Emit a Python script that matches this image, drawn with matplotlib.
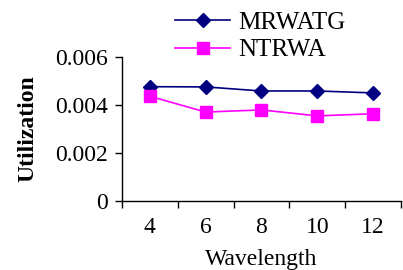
import matplotlib
matplotlib.use("Agg")
import matplotlib.pyplot as plt

categories = ["4", "6", "8", "10", "12"]
mrwatg = [0.00476, 0.00475, 0.00458, 0.00458, 0.00450]
ntrwa = [0.00436, 0.00370, 0.00379, 0.00354, 0.00363]
yticks = [0, 0.002, 0.004, 0.006]
ytick_labels = ["0", "0.002", "0.004", "0.006"]

plt.rcParams['font.family'] = ['Liberation Serif', 'DejaVu Serif']

fig = plt.figure(figsize=(4.03, 2.70), dpi=100)
ax = fig.add_axes([0.3027, 0.2567, 0.6923, 0.5323])

x = list(range(len(categories)))
l1, = ax.plot(x, mrwatg, color='#000080', marker='D', markersize=7, linewidth=1.2, label='MRWATG')
l2, = ax.plot(x, ntrwa, color='#FF00FF', marker='s', markersize=8, linewidth=1.2, label='NTRWA')

ax.set_xlim(-0.5, len(categories) - 0.5)
ax.set_ylim(0, 0.006)
ax.set_yticks(yticks)
ax.set_yticklabels(ytick_labels, fontsize=17)
ax.set_xticks(x)
ax.set_xticklabels(categories, fontsize=17)
ax.set_xticks([i - 0.5 for i in range(len(categories) + 1)], minor=True)
ax.tick_params(axis='x', which='major', length=0, pad=12)
ax.tick_params(axis='x', which='minor', length=5, direction='out', width=1)
ax.tick_params(axis='y', length=5, direction='out', width=1, pad=5)

for s in ['top', 'right']:
    ax.spines[s].set_visible(False)
for s in ['left', 'bottom']:
    ax.spines[s].set_linewidth(1)
    ax.spines[s].set_color('black')

ax.set_ylabel('Utilization', fontsize=17, fontweight='bold', labelpad=12)
ax.set_xlabel('Wavelength', fontsize=17, labelpad=8)

fig.legend(handles=[l1, l2], loc='upper left', bbox_to_anchor=(0.41, 0.995),
           frameon=False, fontsize=18, handlelength=2.2, handletextpad=0.3,
           labelspacing=0.2, borderaxespad=0)

fig.savefig('out.png', dpi=100)
